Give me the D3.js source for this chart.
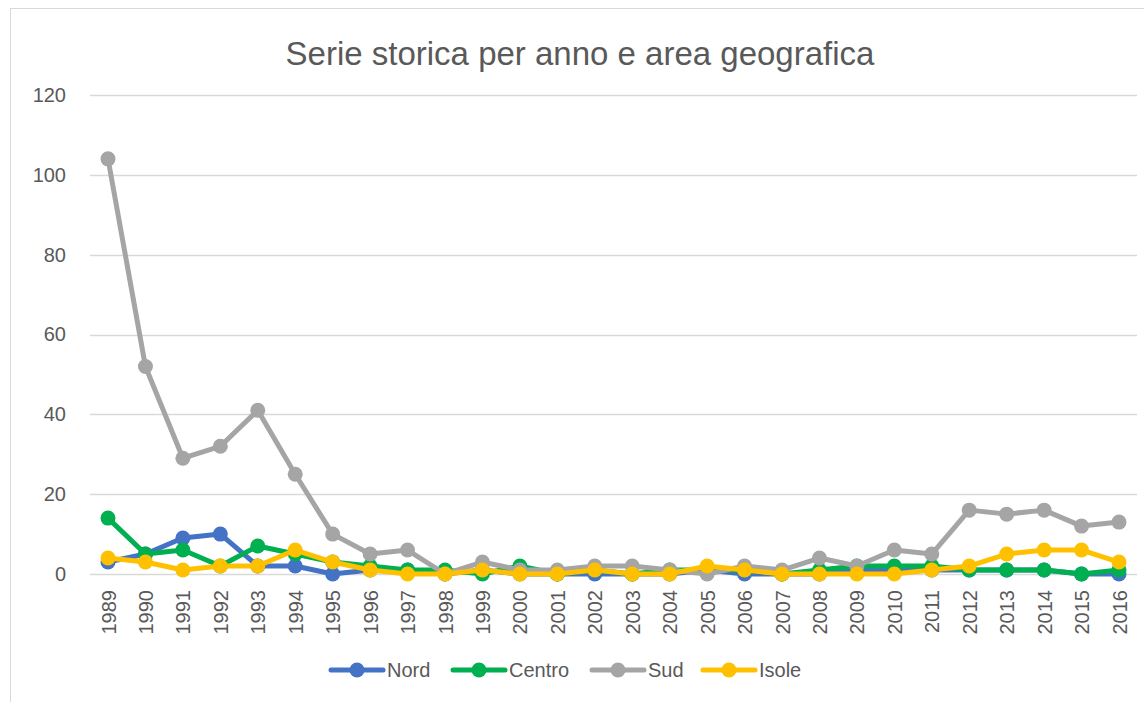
<!DOCTYPE html>
<html>
<head>
<meta charset="utf-8">
<script src="https://cdn.jsdelivr.net/npm/d3@7"></script>
<style>
  body { margin: 0; background: #fff; }
  text { font-family: "Liberation Sans", Arial, sans-serif; fill: #595959; }
</style>
</head>
<body>
<div id="chart-area"></div>
<script>
let years = d3.range(1989, 2017);
let seriesNames = ["Nord", "Centro", "Sud", "Isole"];
let nord   = [3, 5, 9, 10, 2, 2, 0, 1, 1, 0, 1, 0, 0, 0, 0, 0, 1, 0, 0, 0, 1, 1, 1, 1, 1, 1, 0, 0];
let centro = [14, 5, 6, 2, 7, 5, 3, 2, 1, 1, 0, 2, 0, 1, 0, 1, 1, 1, 0, 1, 2, 2, 2, 1, 1, 1, 0, 1];
let sud    = [104, 52, 29, 32, 41, 25, 10, 5, 6, 0, 3, 1, 1, 2, 2, 1, 0, 2, 1, 4, 2, 6, 5, 16, 15, 16, 12, 13];
let isole  = [4, 3, 1, 2, 2, 6, 3, 1, 0, 0, 1, 0, 0, 1, 0, 0, 2, 1, 0, 0, 0, 0, 1, 2, 5, 6, 6, 3];
let yTicks = [0, 20, 40, 60, 80, 100, 120];

let seriesValues = [nord, centro, sud, isole];
let seriesColor = d3.scaleOrdinal(seriesNames, ["#4472C4", "#00B050", "#A5A5A5", "#FFC000"]);

let W = 1144, H = 702;
let svg = d3.select("#chart-area")
	.append("svg")
	.attr("width", W)
	.attr("height", H);

// chart border
svg.append("rect")
	.attr("x", 10.5).attr("y", 8.5)
	.attr("width", 1140).attr("height", 720)
	.attr("fill", "none")
	.attr("stroke", "#d9d9d9");

// Scales
let x = d3.scalePoint()
	.domain(years)
	.range([108, 1119]);

let y = d3.scaleLinear()
	.domain([0, 120])
	.range([574, 95]);

// Gridlines
svg.append("g")
	.selectAll("line")
	.data(yTicks)
	.join("line")
	.attr("x1", 90).attr("x2", 1137)
	.attr("y1", d => Math.round(y(d)) + 0.5)
	.attr("y2", d => Math.round(y(d)) + 0.5)
	.attr("stroke", "#d9d9d9")
	.attr("stroke-width", 1.3);

// Y Axis
let yAxisCall = d3.axisLeft(y).tickValues(yTicks).tickSize(0).tickPadding(0);
let yAxis = svg.append("g")
	.attr("transform", "translate(66,0)")
	.call(yAxisCall);
yAxis.select(".domain").remove();
yAxis.selectAll("text")
	.attr("font-size", "20px")
	.attr("fill", "#595959")
	.style("font-family", "Liberation Sans, Arial, sans-serif");

// X Axis
let xAxisCall = d3.axisBottom(x).tickSize(0).tickPadding(0);
let xAxis = svg.append("g")
	.attr("transform", "translate(0,590)")
	.call(xAxisCall);
xAxis.select(".domain").remove();
xAxis.selectAll("text")
	.attr("font-size", "20px")
	.attr("fill", "#595959")
	.style("font-family", "Liberation Sans, Arial, sans-serif")
	.attr("text-anchor", "end")
	.attr("dy", "0.35em")
	.attr("y", 0)
	.attr("transform", "rotate(-90)");

// Title
svg.append("text")
	.attr("x", 580)
	.attr("y", 65)
	.attr("font-size", "33px")
	.attr("text-anchor", "middle")
	.text("Serie storica per anno e area geografica");

// Lines and markers
let line = d3.line()
	.x((d, i) => x(years[i]))
	.y(d => y(d));

seriesNames.forEach((name, k) => {
	let vals = seriesValues[k];
	let sg = svg.append("g");
	sg.append("path")
		.datum(vals)
		.attr("d", line)
		.attr("fill", "none")
		.attr("stroke", seriesColor(name))
		.attr("stroke-width", 5)
		.attr("stroke-linejoin", "round")
		.attr("stroke-linecap", "round");
	sg.selectAll("circle")
		.data(vals)
		.join("circle")
		.attr("cx", (d, i) => x(years[i]))
		.attr("cy", d => y(d))
		.attr("r", 7.5)
		.attr("fill", seriesColor(name));
});

// Legend
let legendX = [331, 453, 592, 703];
let legend = svg.append("g").attr("transform", "translate(0,670)");
seriesNames.forEach((name, k) => {
	let row = legend.append("g").attr("transform", "translate(" + legendX[k] + ",0)");
	row.append("line")
		.attr("x1", 0).attr("x2", 52)
		.attr("stroke", seriesColor(name))
		.attr("stroke-width", 5)
		.attr("stroke-linecap", "round");
	row.append("circle")
		.attr("cx", 26).attr("r", 7.5)
		.attr("fill", seriesColor(name));
	row.append("text")
		.attr("x", 56)
		.attr("dy", "0.35em")
		.attr("font-size", "20px")
		.text(name);
});
</script>
</body>
</html>
